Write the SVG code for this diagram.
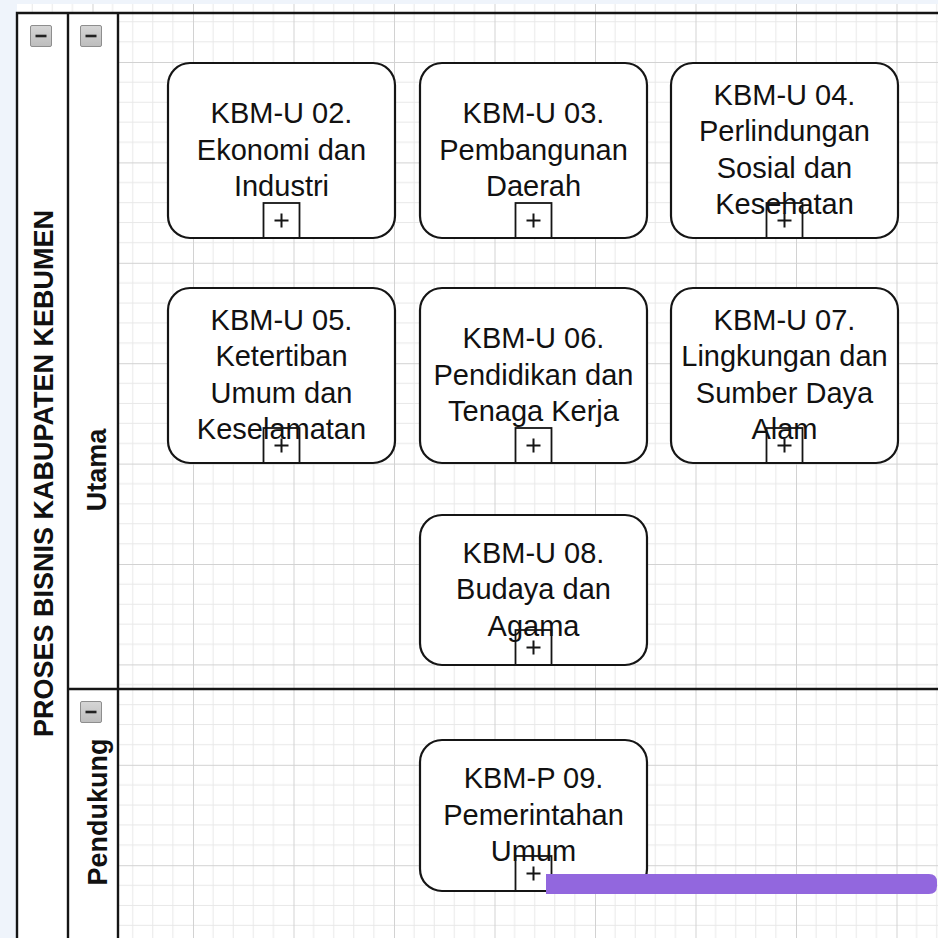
<svg xmlns="http://www.w3.org/2000/svg" width="938" height="938" viewBox="0 0 938 938">
<style>
.lbl{font-family:"Liberation Sans",Arial,Helvetica,sans-serif;font-size:29px;fill:#111111;text-anchor:middle}
.hdr{font-family:"Liberation Sans",Arial,Helvetica,sans-serif;font-size:27px;font-weight:bold;fill:#111111;text-anchor:middle}
.box{fill:#ffffff;stroke:#151515;stroke-width:2.2}
.mk{fill:none;stroke:#151515;stroke-width:1.8}
.pl{stroke:#151515;stroke-width:2}
.ln{stroke:#151515;stroke-width:2.4;fill:none}
.btn{fill:url(#bg);stroke:#8e8e8e;stroke-width:1}
.dash{stroke:#222;stroke-width:2.6}
</style>
<defs>
<pattern id="grid" patternUnits="userSpaceOnUse" x="193" y="62" width="100.5" height="100.4">
<path d="M20.1 0V100.4M40.2 0V100.4M60.3 0V100.4M80.4 0V100.4M0 20.08H100.5M0 40.16H100.5M0 60.24H100.5M0 80.32H100.5" stroke="#e8e8e8" stroke-width="1" fill="none"/>
<path d="M0.5 0V100.4M0 0.5H100.5" stroke="#d2d2d2" stroke-width="1" fill="none"/>
</pattern>
<linearGradient id="bg" x1="0" y1="0" x2="0" y2="1">
<stop offset="0" stop-color="#d6d6d6"/>
<stop offset="1" stop-color="#bdbdbd"/>
</linearGradient>
</defs>
<rect x="0" y="0" width="938" height="938" fill="#eff4fb"/>
<rect x="17" y="4" width="921" height="934" fill="#ffffff"/>
<rect x="17" y="4" width="921" height="934" fill="url(#grid)"/>
<g id="pool">
<rect x="17" y="13" width="101" height="925" fill="#ffffff"/>
<path class="ln" d="M17 938V13H938M68 13V938M118 13V938M68 689H938"/>
<text class="hdr" transform="translate(52.5,473.5) rotate(-90)">PROSES BISNIS KABUPATEN KEBUMEN</text>
<rect class="btn" x="30.5" y="25.5" width="21" height="21" rx="1.5"/>
<line class="dash" x1="35.5" y1="36" x2="46.5" y2="36"/>
</g>
<g id="lane-utama">
<text class="hdr" transform="translate(106,470) rotate(-90)">Utama</text>
<rect class="btn" x="80.5" y="25.5" width="21" height="21" rx="1.5"/>
<line class="dash" x1="85.5" y1="36" x2="96.5" y2="36"/>
</g>
<g id="lane-pendukung">
<text class="hdr" transform="translate(107,812) rotate(-90)">Pendukung</text>
<rect class="btn" x="80.5" y="701.5" width="21" height="21" rx="1.5"/>
<line class="dash" x1="85.5" y1="712" x2="96.5" y2="712"/>
</g>
<g id="connectors"></g>
<g id="n02">
<rect class="box" x="168" y="63" width="227" height="175" rx="22"/>
<text class="lbl" x="281.5" y="123">KBM-U 02.</text>
<text class="lbl" x="281.5" y="159.5">Ekonomi dan</text>
<text class="lbl" x="281.5" y="196">Industri</text>
<rect class="mk" x="263.5" y="203" width="36" height="35"/>
<path class="pl" d="M274.5 220.5H288.5M281.5 213.5V227.5"/>
</g>
<g id="n03">
<rect class="box" x="420" y="63" width="227" height="175" rx="22"/>
<text class="lbl" x="533.5" y="123">KBM-U 03.</text>
<text class="lbl" x="533.5" y="159.5">Pembangunan</text>
<text class="lbl" x="533.5" y="196">Daerah</text>
<rect class="mk" x="515.5" y="203" width="36" height="35"/>
<path class="pl" d="M526.5 220.5H540.5M533.5 213.5V227.5"/>
</g>
<g id="n04">
<rect class="box" x="671" y="63" width="227" height="175" rx="22"/>
<rect class="mk" x="766.5" y="203" width="36" height="35"/>
<path class="pl" d="M777.5 220.5H791.5M784.5 213.5V227.5"/>
<text class="lbl" x="784.5" y="104.75">KBM-U 04.</text>
<text class="lbl" x="784.5" y="141.25">Perlindungan</text>
<text class="lbl" x="784.5" y="177.75">Sosial dan</text>
<text class="lbl" x="784.5" y="214.25">Kesehatan</text>
</g>
<g id="n05">
<rect class="box" x="168" y="288" width="227" height="175" rx="22"/>
<rect class="mk" x="263.5" y="428" width="36" height="35"/>
<path class="pl" d="M274.5 445.5H288.5M281.5 438.5V452.5"/>
<text class="lbl" x="281.5" y="329.75">KBM-U 05.</text>
<text class="lbl" x="281.5" y="366.25">Ketertiban</text>
<text class="lbl" x="281.5" y="402.75">Umum dan</text>
<text class="lbl" x="281.5" y="439.25">Keselamatan</text>
</g>
<g id="n06">
<rect class="box" x="420" y="288" width="227" height="175" rx="22"/>
<text class="lbl" x="533.5" y="348">KBM-U 06.</text>
<text class="lbl" x="533.5" y="384.5">Pendidikan dan</text>
<text class="lbl" x="533.5" y="421">Tenaga Kerja</text>
<rect class="mk" x="515.5" y="428" width="36" height="35"/>
<path class="pl" d="M526.5 445.5H540.5M533.5 438.5V452.5"/>
</g>
<g id="n07">
<rect class="box" x="671" y="288" width="227" height="175" rx="22"/>
<rect class="mk" x="766.5" y="428" width="36" height="35"/>
<path class="pl" d="M777.5 445.5H791.5M784.5 438.5V452.5"/>
<text class="lbl" x="784.5" y="329.75">KBM-U 07.</text>
<text class="lbl" x="784.5" y="366.25">Lingkungan dan</text>
<text class="lbl" x="784.5" y="402.75">Sumber Daya</text>
<text class="lbl" x="784.5" y="439.25">Alam</text>
</g>
<g id="n08">
<rect class="box" x="420" y="515" width="227" height="150" rx="22"/>
<rect class="mk" x="515.5" y="630" width="36" height="35"/>
<path class="pl" d="M526.5 647.5H540.5M533.5 640.5V654.5"/>
<text class="lbl" x="533.5" y="562.5">KBM-U 08.</text>
<text class="lbl" x="533.5" y="599">Budaya dan</text>
<text class="lbl" x="533.5" y="635.5">Agama</text>
</g>
<g id="n09">
<rect class="box" x="420" y="740" width="227" height="151" rx="22"/>
<rect class="mk" x="515.5" y="856" width="36" height="35"/>
<path class="pl" d="M526.5 873.5H540.5M533.5 866.5V880.5"/>
<text class="lbl" x="533.5" y="788">KBM-P 09.</text>
<text class="lbl" x="533.5" y="824.5">Pemerintahan</text>
<text class="lbl" x="533.5" y="861">Umum</text>
</g>
<path id="highlight" d="M546 874H929Q937 874 937 882V886Q937 894 929 894H546Z" fill="#9267de"/>
</svg>
